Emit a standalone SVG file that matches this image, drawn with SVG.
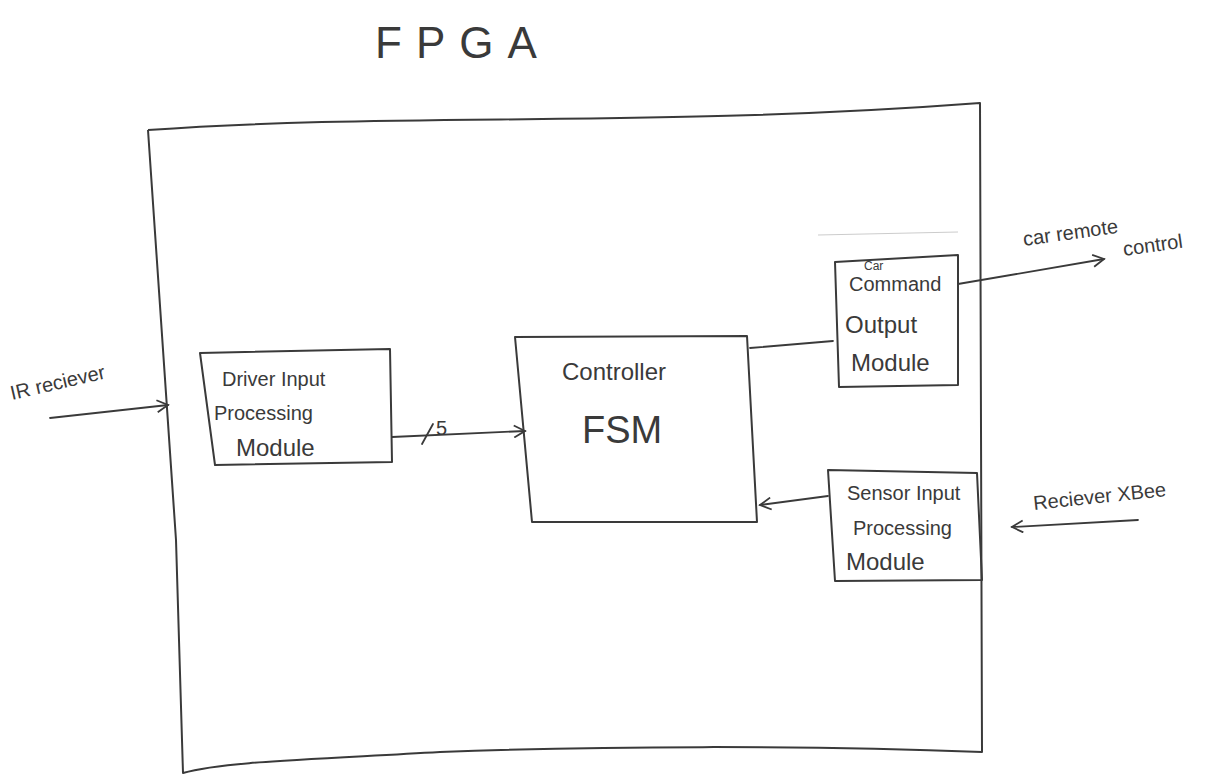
<svg xmlns="http://www.w3.org/2000/svg" width="1209" height="778" viewBox="0 0 1209 778">
<defs>
<style>
.box{fill:none;stroke:#3a3a3a;stroke-width:2;stroke-linejoin:round}
.line{fill:none;stroke:#3a3a3a;stroke-width:1.8;stroke-linecap:round}
.t{font-family:"Liberation Sans",Arial,sans-serif;fill:#3a3a3a;font-weight:normal}
.s{font-size:20px}
.m{font-size:24px}
</style>
<marker id="arr" viewBox="0 0 14 14" refX="12" refY="7" markerWidth="14" markerHeight="14" markerUnits="userSpaceOnUse" orient="auto">
<path d="M1,1 L12,7 L1,13" fill="none" stroke="#3a3a3a" stroke-width="1.8"/>
</marker>
</defs>
<rect width="1209" height="778" fill="#ffffff"/>
<text class="t" x="375" y="58" font-size="44" letter-spacing="14" fill="#555">FPGA</text>
<g id="fpga">
<path class="box" d="M148,130 C400,112 650,128 980,103 L982,752 C800,745 600,746 440,752 C300,760 220,762 183,773 L176,540 L148,130"/>
</g>
<g id="driver">
<path class="box" d="M200,353 L390,349 L392,462 L215,465 Z"/>
<text class="t s" x="222" y="386">Driver Input</text>
<text class="t s" x="214" y="420">Processing</text>
<text class="t m" x="236" y="456">Module</text>
</g>
<g id="controller">
<path class="box" d="M515,337 L747,336 L757,522 L532,522 Z" stroke="#666" stroke-width="1.5"/>
<text class="t m" x="562" y="380">Controller</text>
<text class="t" x="582" y="443" font-size="38">FSM</text>
</g>
<g id="output">
<path d="M818,235 L958,232" fill="none" stroke="#ccc" stroke-width="1.2"/>
<path class="box" d="M835,262 L958,255 L958,385 L839,387 Z"/>
<text class="t" x="864" y="270" font-size="12">Car</text>
<text class="t s" x="849" y="291">Command</text>
<text class="t m" x="845" y="333">Output</text>
<text class="t m" x="851" y="371">Module</text>
</g>
<g id="sensor">
<path class="box" d="M828,470 L977,473 L982,580 L835,581 Z"/>
<text class="t s" x="847" y="500">Sensor Input</text>
<text class="t s" x="853" y="535">Processing</text>
<text class="t m" x="846" y="570">Module</text>
</g>
<g id="connectors">
<path class="line" d="M50,418 L168,405" marker-end="url(#arr)"/>
<path class="line" d="M392,437 L525,431" marker-end="url(#arr)"/>
<path class="line" d="M422,444 L433,424"/>
<path class="line" d="M750,348 L833,341"/>
<path class="line" d="M958,284 L1104,259" marker-end="url(#arr)"/>
<path class="line" d="M828,496 L760,505" marker-end="url(#arr)"/>
<path class="line" d="M1138,520 L1012,527" marker-end="url(#arr)"/>
</g>
<g id="labels">
<text class="t s" x="436" y="435">5</text>
<text class="t s" transform="translate(12,400) rotate(-13)">IR reciever</text>
<text class="t s" transform="translate(1024,246) rotate(-8)">car remote</text>
<text class="t s" transform="translate(1124,256) rotate(-8)">control</text>
<text class="t s" transform="translate(1034,510) rotate(-6)">Reciever XBee</text>
</g>
</svg>
